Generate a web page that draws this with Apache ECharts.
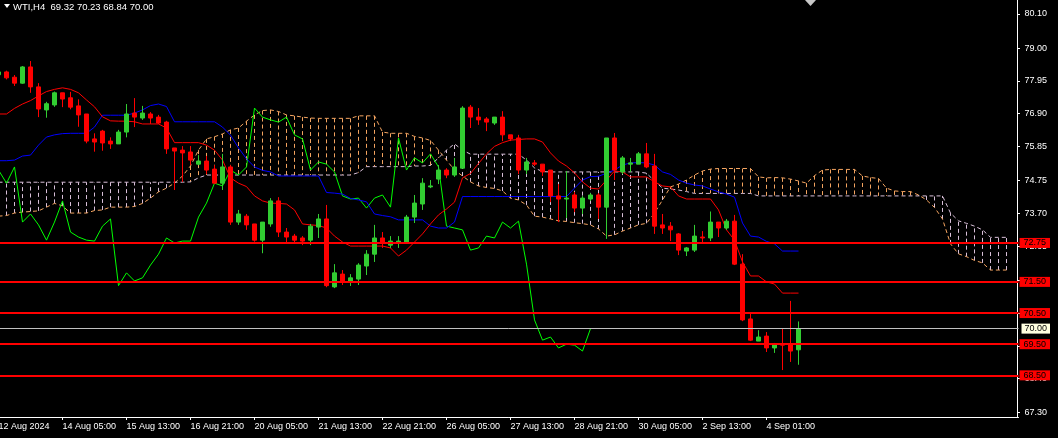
<!DOCTYPE html>
<html><head><meta charset="utf-8">
<script src="https://cdn.jsdelivr.net/npm/echarts@6/dist/echarts.min.js"></script>
<style>html,body{margin:0;padding:0;background:#000;}#c{width:1058px;height:438px;}</style>
</head><body><div id="c"></div>
<script>
// bars k = -1 .. 99 (H4), first bar = 12 Aug 21:00
const openP = [
 78.15,78.24,78.07,77.88,78.40,77.76,77.02,77.18,77.57,77.41,
 77.15,76.89,76.09,76.34,76.02,75.93,76.31,76.92,76.76,76.89,
 76.79,76.63,75.80,75.73,75.67,75.28,75.38,75.12,74.67,75.19,
 73.42,73.61,73.36,72.84,73.36,74.10,73.10,72.97,72.91,72.84,
 73.26,73.52,71.34,71.75,71.50,71.59,72.01,72.39,72.91,72.68,
 72.78,72.75,73.58,74.00,74.55,74.80,75.09,74.93,75.15,77.11,
 76.79,76.73,76.60,76.79,76.22,76.12,75.09,75.32,75.28,75.09,
 74.26,74.16,74.29,73.87,74.16,74.29,73.90,76.12,75.03,75.28,
 75.28,75.61,75.22,73.33,73.29,73.04,72.49,72.52,72.94,72.91,
 73.42,73.23,73.45,72.07,70.31,69.60,69.76,69.38,69.50,69.50,69.32];
const highP = [
 78.30,78.28,78.14,78.43,78.59,77.88,77.28,77.61,77.57,77.60,
 77.36,76.89,76.27,76.38,76.14,76.38,77.21,77.40,77.15,76.95,
 76.86,76.67,75.80,75.86,75.86,75.57,75.54,75.25,75.61,75.25,
 73.81,73.68,73.36,73.42,74.19,74.22,73.23,73.04,72.97,73.36,
 73.68,73.97,72.07,71.88,71.75,72.10,72.52,73.33,73.10,72.97,
 72.97,73.65,74.29,74.83,74.77,75.25,75.15,75.48,77.14,77.18,
 77.08,76.79,76.79,76.98,76.22,76.22,75.48,75.41,75.28,75.09,
 74.64,75.06,74.39,74.26,74.35,74.35,76.12,76.28,75.54,75.48,
 75.67,75.96,75.61,73.68,73.42,73.07,72.62,73.33,73.13,73.76,
 73.42,73.52,73.65,72.39,70.47,69.95,69.89,69.54,69.99,70.89,70.23];
const lowP = [
 78.05,78.00,77.79,77.86,77.57,76.79,76.77,77.12,77.11,77.04,
 76.48,75.95,75.68,75.71,75.77,75.93,76.14,76.47,76.70,76.57,
 76.57,75.61,74.45,74.71,75.25,75.25,74.96,74.64,74.45,73.33,
 73.33,73.17,72.79,72.42,73.27,72.94,72.75,72.75,72.68,72.68,
 72.91,71.33,71.30,71.40,71.37,71.40,71.72,72.14,72.59,72.59,
 72.59,72.72,73.39,73.81,74.51,74.64,74.83,74.87,75.15,76.44,
 76.54,76.34,76.54,76.02,76.02,74.96,74.96,75.22,74.90,74.06,
 73.42,73.55,73.74,73.68,74.10,73.52,72.88,74.77,74.96,75.03,
 75.28,75.15,73.04,73.04,72.81,72.36,72.33,72.46,72.78,72.81,
 72.94,73.17,72.04,70.24,69.60,69.60,69.25,69.22,68.67,68.93,68.84];
const closeP = [
 78.24,78.05,77.88,78.40,77.76,77.05,77.22,77.57,77.37,77.11,
 76.86,76.02,75.99,75.96,75.93,76.31,76.89,76.79,76.92,76.76,
 76.60,75.77,75.70,75.64,75.41,75.38,75.09,74.67,75.19,73.42,
 73.68,73.33,72.84,73.42,74.10,73.10,72.94,72.84,72.81,73.29,
 73.52,71.38,71.79,71.53,71.63,72.04,72.39,72.91,72.75,72.81,
 72.81,73.58,74.03,74.67,74.58,75.09,74.93,75.19,77.08,76.79,
 76.70,76.63,76.79,76.22,76.09,75.09,75.35,75.28,75.03,74.26,
 74.16,74.19,73.87,74.19,74.29,73.90,76.12,75.09,75.48,75.32,
 75.61,75.19,73.29,73.23,73.17,72.52,72.59,72.97,72.91,73.42,
 73.23,73.45,72.07,70.28,69.63,69.73,69.38,69.50,69.47,69.28,70.00];

// Ichimoku lines
const tenkan = [
 76.89,76.89,77.07,77.21,77.32,77.47,77.61,77.68,77.73,77.68,
 77.57,77.34,77.12,76.80,76.67,76.66,76.66,76.64,76.57,76.57,
 76.57,76.44,75.97,75.97,75.97,75.97,75.89,75.73,75.41,74.84,
 74.67,74.56,74.26,74.10,74.03,74.02,74.00,73.81,73.36,73.33,
 73.31,73.23,72.97,72.78,72.65,72.65,72.65,72.65,72.65,72.59,
 72.33,72.52,72.78,73.04,73.36,73.65,73.84,74.06,74.84,74.98,
 75.30,75.61,75.85,75.97,76.05,76.07,76.09,76.09,75.99,75.64,
 75.38,75.22,75.00,74.71,74.51,74.48,74.77,75.06,75.03,74.87,
 74.87,74.87,74.71,74.58,74.55,74.26,74.16,74.16,74.16,74.16,
 73.81,73.17,72.84,72.14,71.69,71.69,71.50,71.43,71.14,71.14,71.14];
const kijun = [
 75.39,75.39,75.41,75.54,75.57,75.89,76.15,76.22,76.26,76.27,
 76.27,76.27,76.47,76.85,76.85,76.85,76.85,76.92,77.02,77.16,
 77.21,77.13,76.64,76.64,76.64,76.64,76.64,76.64,76.47,76.21,
 75.80,75.45,75.19,75.08,75.03,74.90,74.90,74.90,74.90,74.90,
 74.90,74.37,74.35,74.32,74.18,74.13,74.07,73.68,73.63,73.59,
 73.49,73.49,73.49,73.49,73.29,73.23,73.23,73.42,74.24,74.24,
 74.24,74.24,74.24,74.24,74.24,74.24,74.24,74.24,74.24,74.24,
 74.24,74.24,74.51,74.77,74.88,74.89,74.99,75.09,75.25,75.32,
 75.33,75.32,75.25,75.03,74.95,74.77,74.67,74.61,74.58,74.48,
 74.39,74.32,74.22,73.39,72.97,72.94,72.80,72.72,72.49,72.49,72.49];
// k = -1 .. 125
const spanA = [
 73.61,73.63,73.71,73.74,73.76,73.78,73.90,74.02,73.94,73.71,
 73.71,73.71,73.79,73.81,73.90,73.90,73.90,73.92,74.02,74.19,
 74.39,74.51,74.67,74.90,75.22,75.73,76.09,76.16,76.25,76.38,
 76.44,76.66,76.86,77.00,77.02,76.97,76.86,76.83,76.79,76.76,
 76.75,76.75,76.75,76.75,76.75,76.83,76.83,76.83,76.31,76.27,
 76.27,76.27,76.17,76.12,76.04,75.73,75.41,75.09,74.90,74.71,
 74.58,74.53,74.50,74.42,74.19,74.13,73.97,73.61,73.58,73.52,
 73.46,73.44,73.40,73.37,73.33,73.20,72.97,73.01,73.13,73.23,
 73.33,73.38,73.71,74.13,74.55,74.64,74.77,74.93,75.06,75.12,
 75.14,75.14,75.14,75.14,75.14,74.87,74.84,74.85,74.84,74.80,
 74.74,74.67,74.91,75.09,75.11,75.11,75.11,75.11,74.90,74.85,
 74.82,74.51,74.42,74.40,74.40,74.29,74.13,73.89,73.52,72.72,
 72.40,72.31,72.19,72.11,71.88,71.88,71.88];
const spanB = [
 74.70,74.70,74.70,74.70,74.70,74.70,74.70,74.70,74.70,74.70,
 74.70,74.70,74.70,74.70,74.70,74.70,74.70,74.70,74.70,74.70,
 74.70,74.70,74.70,74.70,74.71,74.84,74.93,74.93,74.93,74.93,
 74.93,74.93,74.93,74.93,74.93,74.93,74.93,74.93,74.93,74.93,
 74.93,74.93,74.93,74.93,74.93,75.01,75.20,75.20,75.20,75.20,
 75.20,75.20,75.22,75.22,75.24,75.48,75.73,75.93,75.73,75.60,
 75.60,75.60,75.60,75.60,75.60,75.60,75.41,75.16,75.04,75.03,
 75.03,75.03,75.03,75.03,75.03,75.03,75.03,75.03,75.03,75.03,
 75.03,74.99,74.74,74.51,74.48,74.45,74.40,74.34,74.34,74.34,
 74.34,74.34,74.34,74.34,74.34,74.26,74.26,74.26,74.26,74.26,
 74.26,74.26,74.26,74.26,74.26,74.26,74.26,74.26,74.26,74.26,
 74.26,74.26,74.26,74.26,74.26,74.26,74.26,74.26,74.26,73.71,
 73.46,73.38,73.29,73.17,72.93,72.93,72.93];

const timeLabels = ['12 Aug 2024','14 Aug 05:00','15 Aug 13:00','16 Aug 21:00','20 Aug 05:00',
 '21 Aug 13:00','22 Aug 21:00','26 Aug 05:00','27 Aug 13:00','28 Aug 21:00','30 Aug 05:00',
 '2 Sep 13:00','4 Sep 01:00'];
const priceTicks = [80.10,79.00,77.95,76.90,75.85,74.75,73.70,72.65,71.55,70.50,69.45,68.40,67.30];
const levelLines = [72.75,71.50,70.50,69.50,68.50];
const bidPrice = 70.00;
const symbolName = 'WTI,H4';

const LABEL_STEP = 8;
const NCAT = 128;
const FONT = 'Liberation Sans, Arial, sans-serif';
const cats = Array.from({length: NCAT}, (_, i) => String(i));
const last = closeP.length - 1;
const candles = openP.map((o, i) => [o, closeP[i], lowP[i], highP[i]]);
const chikou = closeP.slice(26);
const cloud = spanA.map((a, i) => [i, a, spanB[i]]);
const showTick = (idx) => idx % LABEL_STEP === 0 && idx / LABEL_STEP < timeLabels.length;

const chart = echarts.init(document.getElementById('c'), null, {renderer: 'canvas'});
chart.setOption({
  backgroundColor: '#000000',
  animation: false,
  title: {
    text: symbolName + '  ' + [openP[last], highP[last], lowP[last], closeP[last]].map(v => v.toFixed(2)).join(' '),
    left: 13, top: 2, padding: 0,
    textStyle: {color: '#ffffff', fontSize: 9.5, fontWeight: 'normal', fontFamily: FONT}
  },
  graphic: [
    {type: 'polygon', shape: {points: [[4, 4], [10, 4], [7, 8]]}, style: {fill: '#ffffff'}},
    {type: 'polygon', shape: {points: [[805, 0], [816, 0], [810.5, 6]]}, style: {fill: '#c8c8c8'}}
  ],
  grid: {left: -5.5, right: 39.5, top: 0, bottom: 21, containLabel: false, outerBoundsMode: 'none'},
  xAxis: {
    type: 'category', data: cats, boundaryGap: true,
    axisLine: {show: true, lineStyle: {color: '#ffffff', width: 1}},
    axisTick: {show: true, length: 3, interval: showTick, alignWithLabel: true, lineStyle: {color: '#ffffff'}},
    axisLabel: {
      show: true, interval: showTick, align: 'left', margin: 5,
      formatter: (v, idx) => timeLabels[idx / LABEL_STEP] || '',
      color: '#ffffff', fontSize: 9, fontFamily: FONT
    },
    splitLine: {show: false}
  },
  yAxis: {
    type: 'value', position: 'right', min: 67.163, max: 80.549, offset: -1.5,
    axisLine: {show: true, lineStyle: {color: '#ffffff', width: 1}},
    axisTick: {show: true, length: 3, customValues: priceTicks, lineStyle: {color: '#ffffff'}},
    axisLabel: {show: true, customValues: priceTicks, margin: 7.5, formatter: v => v.toFixed(2),
      color: '#ffffff', fontSize: 9, fontFamily: FONT},
    splitLine: {show: false}
  },
  series: [
    {
      type: 'custom', name: 'kumo', z: 1, clip: false,
      data: cloud, encode: {x: 0, y: [1, 2]},
      renderItem: (params, api) => {
        const i = api.value(0), a = api.value(1), b = api.value(2);
        const p1 = api.coord([i, a]), p2 = api.coord([i, b]);
        const x = Math.round(p1[0] - 0.5) + 0.5;
        return {type: 'line', shape: {x1: x, y1: p1[1], x2: x, y2: p2[1]},
          style: {stroke: a >= b ? '#F4A460' : '#D8BFD8', lineWidth: 1, lineDash: [4, 3]}};
      }
    },
    {type: 'line', name: 'Senkou A', data: spanA, z: 2, symbol: 'none', showSymbol: false,
      lineStyle: {color: '#F4A460', width: 1, type: [4, 3]}},
    {type: 'line', name: 'Senkou B', data: spanB, z: 2, symbol: 'none', showSymbol: false,
      lineStyle: {color: '#D8BFD8', width: 1, type: [4, 3]}},
    {type: 'line', name: 'Chikou', data: chikou, z: 3, symbol: 'none', showSymbol: false,
      lineStyle: {color: '#00FF00', width: 1}},
    {type: 'line', name: 'Kijun', data: kijun, z: 3, symbol: 'none', showSymbol: false,
      lineStyle: {color: '#0000FF', width: 1}},
    {type: 'line', name: 'Tenkan', data: tenkan, z: 3, symbol: 'none', showSymbol: false,
      lineStyle: {color: '#FF0000', width: 1}},
    {
      type: 'candlestick', name: 'WTI', data: candles, z: 4, barWidth: 5,
      itemStyle: {color: '#32CD32', color0: '#FF0000', borderColor: '#32CD32', borderColor0: '#FF0000', borderWidth: 1},
      markLine: {
        symbol: 'none', silent: true, animation: false, z: 6,
        data: levelLines.map(v => ({
          yAxis: v,
          lineStyle: {color: '#FF0000', width: 2, type: 'solid'},
          label: {show: true, position: 'end', distance: 1, formatter: () => v.toFixed(2),
            backgroundColor: '#FF0000', color: '#000000', padding: [1, 4, 0, 4],
            fontSize: 9, lineHeight: 9, fontFamily: FONT}
        })).concat([{
          yAxis: bidPrice,
          lineStyle: {color: '#C0C0C0', width: 1, type: 'solid'},
          label: {show: true, position: 'end', distance: 3, formatter: () => bidPrice.toFixed(2),
            backgroundColor: '#FFFFE0', color: '#000000', padding: [1, 3, 0, 3],
            fontSize: 9, lineHeight: 9, fontFamily: FONT}
        }])
      }
    }
  ]
});
</script></body></html>
